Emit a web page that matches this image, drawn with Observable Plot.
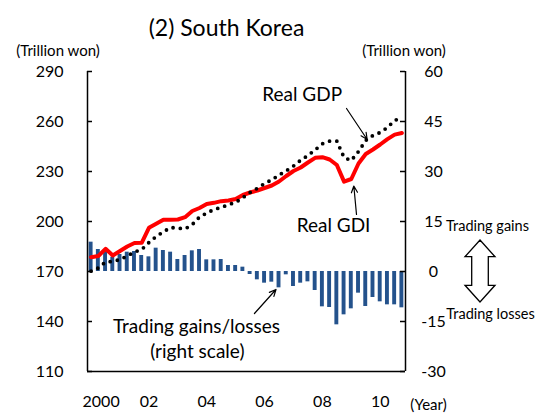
<!DOCTYPE html>
<html><head><meta charset="utf-8">
<script src="https://cdn.jsdelivr.net/npm/d3@7"></script>
<script src="https://cdn.jsdelivr.net/npm/@observablehq/plot@0.6"></script>
<style>body{margin:0;background:#fff} #chart{width:542px;height:416px}</style>
</head><body><div id="chart"></div>
<script>
// ---- data ----
const quarters = ["2000Q1","2000Q2","2000Q3","2000Q4","2001Q1","2001Q2","2001Q3","2001Q4",
  "2002Q1","2002Q2","2002Q3","2002Q4","2003Q1","2003Q2","2003Q3","2003Q4",
  "2004Q1","2004Q2","2004Q3","2004Q4","2005Q1","2005Q2","2005Q3","2005Q4",
  "2006Q1","2006Q2","2006Q3","2006Q4","2007Q1","2007Q2","2007Q3","2007Q4",
  "2008Q1","2008Q2","2008Q3","2008Q4","2009Q1","2009Q2","2009Q3","2009Q4",
  "2010Q1","2010Q2","2010Q3","2010Q4"];
// Real GDP (left scale, trillion won)
const realGDP = [170.2,172.1,175.7,176.0,177.2,179.3,181.7,183.2,
  187.4,191.0,193.8,196.4,196.0,195.6,198.2,202.7,
  205.1,207.2,208.4,210.1,211.5,214.3,217.4,219.9,
  222.8,225.0,227.9,230.4,233.3,236.8,239.6,243.0,
  246.6,248.2,248.2,238.4,236.6,242.0,248.6,251.6,
  253.4,256.4,260.6,262.4];
// Real GDI (left scale, trillion won)
const realGDI = [178.6,179.3,183.6,179.6,182.3,185.0,187.1,187.2,
  196.2,198.6,201.1,201.1,201.2,202.6,206.3,208.1,
  210.5,211.2,212.2,212.6,213.5,215.9,217.4,218.6,
  220.1,221.6,224.0,227.3,230.3,232.4,235.4,238.2,
  238.6,237.2,233.9,223.9,225.5,234.8,240.5,243.2,
  246.2,249.4,252.1,253.1];
// Trading gains/losses (right scale, trillion won)
const tradingGains = [8.8,6.6,6.0,4.3,5.1,5.8,6.0,4.8,
  4.4,7.0,6.3,5.8,3.6,4.8,6.2,6.6,
  3.5,3.5,3.6,1.8,1.8,1.3,-0.9,-2.5,
  -3.5,-3.2,-4.9,-1.0,-4.5,-3.5,-3.1,-5.7,
  -10.6,-10.8,-16.0,-13.0,-11.2,-6.5,-10.5,-7.8,
  -9.1,-10.0,-10.0,-10.9];
const leftTicks = [110,140,170,200,230,260,290];
const rightTicks = [-30,-15,0,15,30,45,60];
const xTickQuarters = ["2000Q1","2002Q1","2004Q1","2006Q1","2008Q1","2010Q1"];
const xTickLabels = ["2000","02","04","06","08","10"];

// ---- chart ----
const rows = quarters.map((q, i) => ({q, i, gdp: realGDP[i], gdi: realGDI[i], gain: tradingGains[i]}));
const toLeft = v => 170 + 2 * v; // right scale -> left scale (0 ↔ 170, 60 ↔ 290)
const xt = xTickQuarters.map((q, k) => ({i: quarters.indexOf(q), label: xTickLabels[k]}));

const W = 542, H = 416, ML = 87, MR = 137, MT = 71, MB = 45;
const plotW = W - ML - MR;
const F = "Lato, 'Open Sans', sans-serif";

const plot = Plot.plot({
  width: W, height: H,
  marginLeft: ML, marginRight: MR, marginTop: MT, marginBottom: MB,
  x: {domain: [-0.5, quarters.length - 0.5], axis: null},
  y: {domain: [110, 290], axis: null},
  style: {fontFamily: F, fontSize: "16px", color: "black", background: "white", overflow: "visible"},
  marks: [
    Plot.rect(rows, {x1: d => d.i - 0.27, x2: d => d.i + 0.27, y1: toLeft(0), y2: d => toLeft(d.gain), fill: "#24528c"}),
    Plot.line(rows, {x: "i", y: "gdi", stroke: "#ff0000", strokeWidth: 4, strokeLinejoin: "round"}),
    Plot.line(rows, {x: "i", y: "gdp", stroke: "black", strokeWidth: 3.8, strokeDasharray: "0 7.3", strokeLinecap: "round"}),
    // frame lines
    Plot.ruleX([-0.5, quarters.length - 0.5], {stroke: "black", strokeWidth: 1.5}),
    Plot.ruleY([110], {stroke: "black", strokeWidth: 1.5}),
    // inward ticks
    Plot.tickY(leftTicks, {y: d => d, insetRight: plotW - 5, stroke: "black", strokeWidth: 1.5}),
    Plot.tickY(rightTicks, {y: d => toLeft(d), insetLeft: plotW - 5, stroke: "black", strokeWidth: 1.5}),
    // tick labels
    Plot.text(leftTicks, {y: d => d, frameAnchor: "left", textAnchor: "end", dx: -24, text: d => String(d)}),
    Plot.text(rightTicks, {y: d => toLeft(d), frameAnchor: "right", textAnchor: "middle", dx: 28, text: d => String(d)}),
    Plot.text(xt.slice(0, 1), {x: "i", frameAnchor: "bottom", textAnchor: "middle", dy: 35, dx: 10, text: "label"}),
    Plot.text(xt.slice(1), {x: "i", frameAnchor: "bottom", textAnchor: "middle", dy: 35, text: "label"}),
    // titles
    Plot.text(["(2) South Korea"], {frameAnchor: "top", textAnchor: "middle", dx: -20, dy: -52, fontSize: 23}),
    Plot.text(["(Trillion won)"], {frameAnchor: "top-left", textAnchor: "middle", dx: -29.5, dy: -26, fontSize: 15}),
    Plot.text(["(Trillion won)"], {frameAnchor: "top-right", textAnchor: "middle", dx: -1.5, dy: -26, fontSize: 15}),
    Plot.text(["(Year)"], {frameAnchor: "bottom-right", textAnchor: "middle", dx: 23, dy: 38, fontSize: 15}),
    // annotations
    Plot.text(["Real GDP"], {x: 29.2, y: 276.2, fontSize: 19}),
    Plot.arrow([0], {x1: 35.34, y1: 267.8, x2: 38.2, y2: 249.2, stroke: "black", strokeWidth: 1.2, headLength: 9, headAngle: 50}),
    Plot.text(["Real GDI"], {x: 33.54, y: 197.6, fontSize: 19}),
    Plot.arrow([0], {x1: 36.72, y1: 204.2, x2: 36.35, y2: 221.3, stroke: "black", strokeWidth: 1.2, headLength: 9, headAngle: 50}),
    Plot.text(["Trading gains/losses"], {x: 14.58, y: 137, fontSize: 19}),
    Plot.text(["(right scale)"], {x: 14.7, y: 122, fontSize: 19}),
    Plot.arrow([0], {x1: 22.6, y1: 144.8, x2: 25.58, y2: 159.2, stroke: "black", strokeWidth: 1.2, headLength: 9, headAngle: 50}),
    Plot.text(["Trading gains"], {frameAnchor: "right", textAnchor: "middle", y: toLeft(13.5), dx: 82, fontSize: 14.5}),
    Plot.text(["Trading losses"], {frameAnchor: "right", textAnchor: "middle", y: toLeft(-12.9), dx: 85, fontSize: 14.5})
  ]
});

// hollow double arrow (gains ↑ / losses ↓) in right margin
{
  const y = plot.scale("y");
  const top = y.apply(toLeft(9.3)), bot = y.apply(toLeft(-9.3));
  const cx = 480, hw = 15, sw = 8.3, hl = 16.7;
  const pts = [[cx, top], [cx + hw, top + hl], [cx + sw, top + hl], [cx + sw, bot - hl], [cx + hw, bot - hl],
    [cx, bot], [cx - hw, bot - hl], [cx - sw, bot - hl], [cx - sw, top + hl], [cx - hw, top + hl]];
  d3.select(plot).append("path")
    .attr("d", "M" + pts.map(p => p.join(",")).join("L") + "Z")
    .attr("fill", "white").attr("stroke", "black").attr("stroke-width", 1.3);
}
document.getElementById("chart").appendChild(plot);
</script></body></html>
